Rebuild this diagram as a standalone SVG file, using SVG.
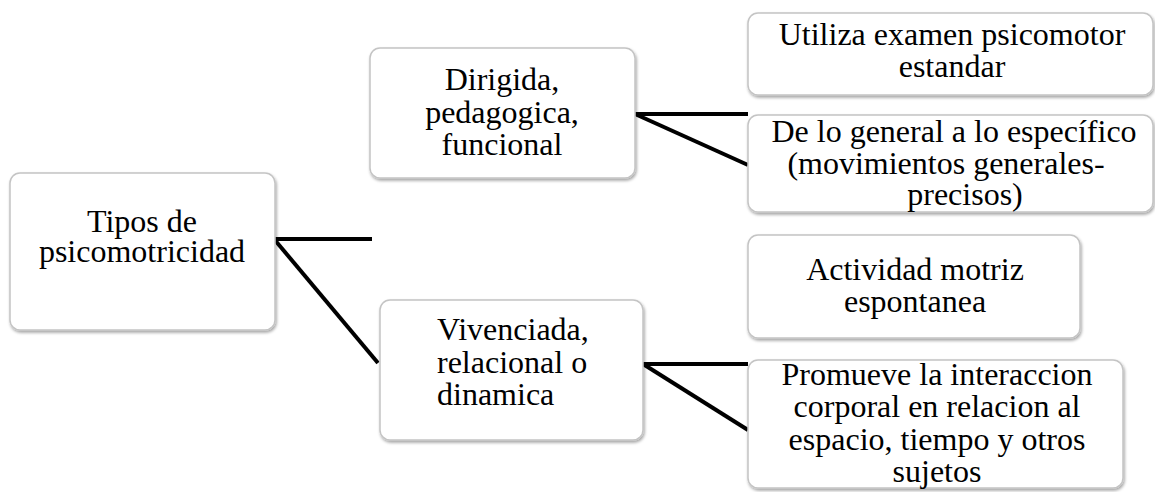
<svg xmlns="http://www.w3.org/2000/svg" width="1155" height="492" viewBox="0 0 1155 492">
<style>
.box{fill:#fff;stroke:#c4c4c4;stroke-width:1.5;filter:url(#sh)}
.t{font-family:"Liberation Serif","Times New Roman",serif;font-size:32px;fill:#000}
.m{text-anchor:middle}
.c{stroke:#000;stroke-width:4;fill:none}
</style>
<defs>
<filter id="sh" x="-10%" y="-10%" width="120%" height="130%">
<feDropShadow dx="1" dy="2" stdDeviation="1.5" flood-color="#000" flood-opacity="0.35"/>
</filter>
</defs>
<rect width="1155" height="492" fill="#fff"/>
<g id="connectors">
<line class="c" x1="274" y1="239" x2="372" y2="239"/>
<line class="c" x1="274" y1="239" x2="378" y2="363"/>
<line class="c" x1="635" y1="114" x2="748" y2="114"/>
<line class="c" x1="635" y1="114" x2="748" y2="165"/>
<line class="c" x1="643" y1="364" x2="748" y2="364"/>
<line class="c" x1="643" y1="364" x2="748" y2="430"/>
</g>
<g id="n1">
<rect class="box" x="10" y="173" width="265" height="157" rx="10"/>
<text class="t m" x="142" y="232">Tipos de</text>
<text class="t m" x="142" y="262">psicomotricidad</text>
</g>
<g id="n2">
<rect class="box" x="370" y="48" width="265" height="130" rx="10"/>
<text class="t m" x="502" y="90">Dirigida,</text>
<text class="t m" x="502" y="123">pedagogica,</text>
<text class="t m" x="502" y="155">funcional</text>
</g>
<g id="n3">
<rect class="box" x="748" y="13" width="405" height="82" rx="10"/>
<text class="t m" x="952" y="45">Utiliza examen psicomotor</text>
<text class="t m" x="952" y="77">estandar</text>
</g>
<g id="n4">
<rect class="box" x="748" y="115" width="405" height="97" rx="10"/>
<text class="t m" x="954" y="142">De lo general a lo específico</text>
<text class="t m" x="946" y="174">(movimientos generales-</text>
<text class="t m" x="965" y="205">precisos)</text>
</g>
<g id="n5">
<rect class="box" x="380" y="300" width="263" height="140" rx="10"/>
<text class="t" x="437" y="340">Vivenciada,</text>
<text class="t" x="437" y="373">relacional o</text>
<text class="t" x="437" y="405">dinamica</text>
</g>
<g id="n6">
<rect class="box" x="748" y="235" width="332" height="103" rx="10"/>
<text class="t m" x="915" y="280">Actividad motriz</text>
<text class="t m" x="915" y="312">espontanea</text>
</g>
<g id="n7">
<rect class="box" x="748" y="360" width="375" height="128" rx="10"/>
<text class="t m" x="937" y="385">Promueve la interaccion</text>
<text class="t m" x="937" y="417">corporal en relacion al</text>
<text class="t m" x="937" y="450">espacio, tiempo y otros</text>
<text class="t m" x="937" y="482">sujetos</text>
</g>
</svg>
